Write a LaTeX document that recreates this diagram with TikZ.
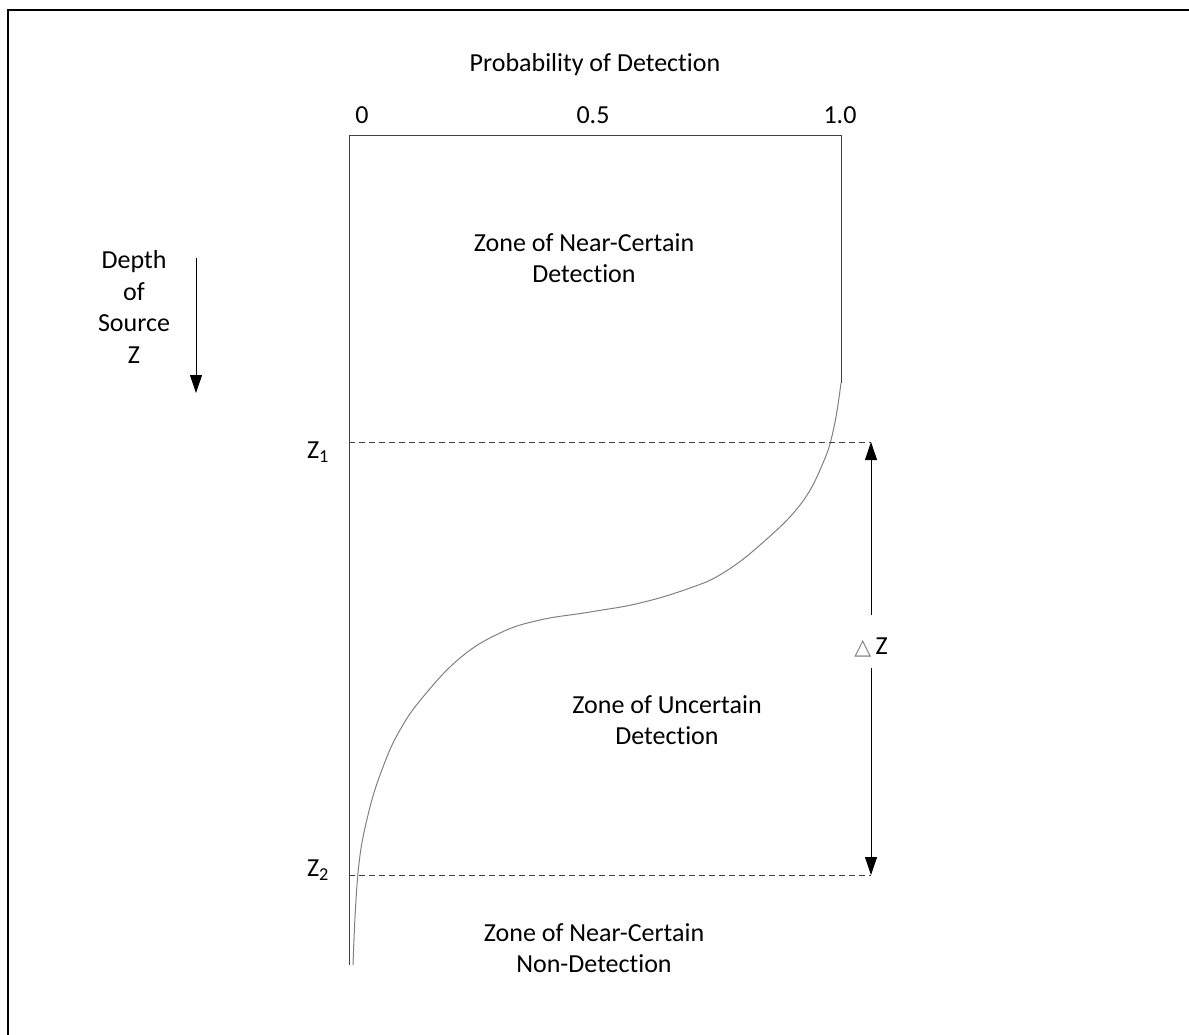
\documentclass[tikz,border=0pt]{standalone}
\usepackage{fontspec}
\setmainfont{Carlito}[Ligatures=NoCommon]
\newfontfamily\symfont{DejaVu Sans}
\usetikzlibrary{arrows.meta}
\usetikzlibrary{positioning}

\tikzset{
  lbl/.style={font=\fontsize{26}{31}\selectfont, inner sep=0pt, align=center},
  zoneline/.style={black!75, line width=0.9pt, dash pattern=on 6pt off 4pt},
  boxline/.style={black!75, line width=0.9pt},
  dimarrow/.style={black, line width=0.9pt, -{Triangle[length=18pt,width=12pt]}}
}

\begin{document}
\begin{tikzpicture}[x=1pt, y=-1pt]

\clip (0,0) rectangle (1189,1034);
\draw[line width=2pt] (8,10) rectangle (1200,1050);

% axis labels
\node[lbl] (title) at (595,65) {Probability of Detection};
\node[lbl] (p0) at (362,115) {0};
\node[lbl] (p5) at (593,115) {0.5};
\node[lbl] (p10) at (840,115) {1.0};

% box and curve
\coordinate (bl) at (349,965);
\coordinate (tl) at (349,135);
\coordinate (tr) at (841,135);
\coordinate (cr) at (841,383);
\draw[boxline] (bl) -- (tl) -- (tr) -- (cr);
\draw[gray, line width=1pt] plot[smooth, tension=0.7] coordinates {
  (841,383) (834,427) (823,463) (800,505)
  (760,545) (723,573) (690,588) (640,603) (590,612)
  (540,620) (500,633) (460,658) (423,697) (400,730) (383,767)
  (368,815) (358,873) (353,965)};

% zone limits
\coordinate (z1l) at (349,442);
\coordinate (z1r) at (871,442);
\coordinate (z2l) at (349,875);
\coordinate (z2r) at (871,875);
\draw[zoneline] (z1l) -- (z1r);
\draw[zoneline] (z2l) -- (z2r);
\node[lbl] (z1) at (318,452) {Z\textsubscript{1}};
\node[lbl] (z2) at (318,870) {Z\textsubscript{2}};

% delta z
\node[lbl] (dz) at (871,648) {{\symfont\color{gray}\fontsize{22}{26}\selectfont △}\,Z};
\coordinate (dzt) at (871,615);
\coordinate (dzb) at (871,668);
\draw[dimarrow] (dzt) -- (z1r);
\draw[dimarrow] (dzb) -- (z2r);

% depth
\node[lbl, font=\fontsize{26}{31.5}\selectfont] (depth) at (134,307) {Depth\\of\\Source\\Z};
\coordinate (da) at (196,258);
\coordinate (db) at (196,393);
\draw[dimarrow] (da) -- (db);

% zones
\node[lbl] (zone1) at (584,258) {Zone of Near-Certain\\Detection};
\node[lbl] (zone2) at (667,720) {Zone of Uncertain\\Detection};
\node[lbl] (zone3) at (594,948) {Zone of Near-Certain\\Non-Detection};

\end{tikzpicture}
\end{document}
